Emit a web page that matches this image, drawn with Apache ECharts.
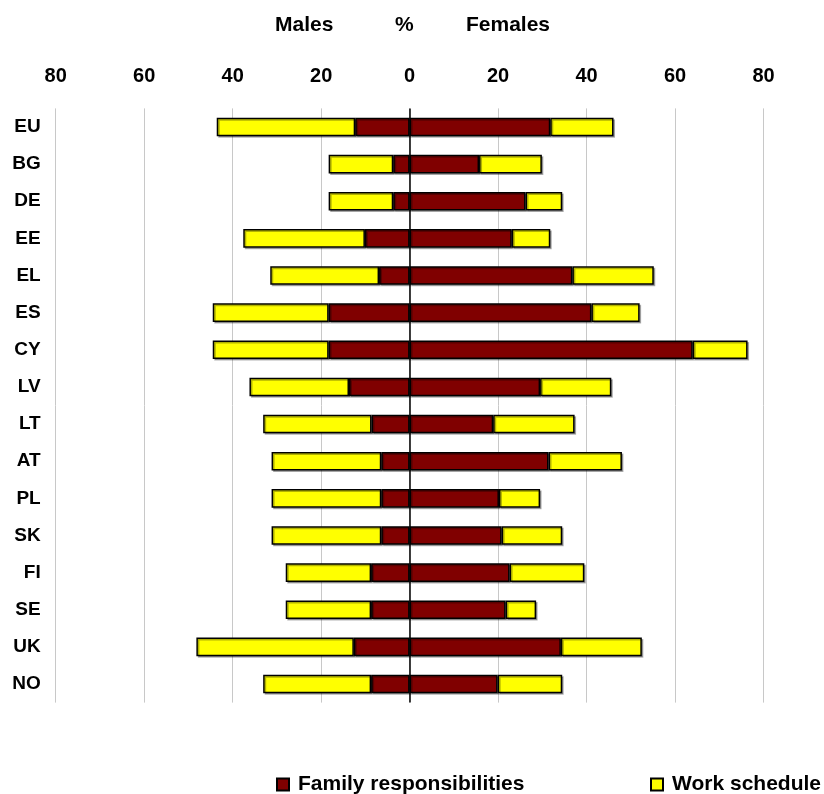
<!DOCTYPE html>
<html>
<head>
<meta charset="utf-8">
<script src="https://cdn.jsdelivr.net/npm/echarts@6/dist/echarts.min.js"></script>
<style>
html,body{margin:0;padding:0;background:#fff;}
#chart{width:824px;height:794px;}
</style>
</head>
<body>
<div id="chart"></div>
<script>
const categories = ['EU','BG','DE','EE','EL','ES','CY','LV','LT','AT','PL','SK','FI','SE','UK','NO'];
const maleFamily   = [12.3, 3.7, 3.7, 10.1, 6.9, 18.3, 18.3, 13.7, 8.6, 6.4, 6.4, 6.4, 8.7, 8.7, 12.6, 8.7];
const maleWork     = [31.3, 14.6, 14.6, 27.5, 24.6, 26.2, 26.2, 22.5, 24.5, 24.8, 24.8, 24.8, 19.3, 19.3, 35.6, 24.4];
const femaleFamily = [31.8, 15.7, 26.2, 23.1, 36.8, 41.1, 64.0, 29.5, 18.9, 31.4, 20.2, 20.8, 22.6, 21.7, 34.2, 19.9];
const femaleWork   = [14.3, 14.2, 8.3, 8.7, 18.4, 10.9, 12.4, 16.1, 18.4, 16.6, 9.3, 13.7, 16.9, 6.9, 18.3, 14.6];
const tickValues = [-80, -60, -40, -20, 0, 20, 40, 60, 80];
const seriesNames = ['Family responsibilities', 'Work schedule'];

const RED = '#800000', YEL = '#ffff00';
const font = 'Liberation Sans, Arial, sans-serif';
const chart = echarts.init(document.getElementById('chart'));

function barStyle(color) {
  return {
    color: color,
    borderColor: '#000',
    borderWidth: 1.5,
    shadowColor: 'rgba(0,0,0,0.3)',
    shadowOffsetX: 1.5,
    shadowOffsetY: 1.5,
    shadowBlur: 0
  };
}

const neg = a => a.map(v => -v);
const legendText = { fontSize: 21, fontWeight: 'bold', color: '#000', fontFamily: font, padding: [0, 0, 0, 4] };

chart.setOption({
  animation: false,
  backgroundColor: '#fff',
  textStyle: { fontFamily: font },
  graphic: [
    { type: 'text', left: 275, top: 15, style: { text: 'Males', font: 'bold 21px ' + font, fill: '#000' } },
    { type: 'text', left: 395, top: 15, style: { text: '%', font: 'bold 21px ' + font, fill: '#000' } },
    { type: 'text', left: 466, top: 15, style: { text: 'Females', font: 'bold 21px ' + font, fill: '#000' } }
  ],
  legend: [
    { data: [seriesNames[0]], left: 276, top: 774, padding: 0, icon: 'rect', itemWidth: 12, itemHeight: 12, textStyle: legendText },
    { data: [seriesNames[1]], left: 650, top: 774, padding: 0, icon: 'rect', itemWidth: 12, itemHeight: 12, textStyle: legendText }
  ],
  grid: { left: 55.7, right: 60.5, top: 108.4, bottom: 91.4, containLabel: false },
  xAxis: {
    type: 'value', position: 'top', min: -80, max: 80, interval: 20,
    axisLine: { show: false }, axisTick: { show: false },
    splitLine: { show: true, lineStyle: { color: '#c8c8c8', width: 1 } },
    axisLabel: {
      margin: 22, fontSize: 20, fontWeight: 'bold', color: '#000', fontFamily: font,
      customValues: tickValues,
      formatter: v => String(Math.abs(v))
    }
  },
  yAxis: {
    type: 'category', data: categories, inverse: true,
    axisLine: { show: false }, axisTick: { show: false },
    axisLabel: { margin: 15, fontSize: 19, fontWeight: 'bold', color: '#000', fontFamily: font }
  },
  series: [
    {
      name: seriesNames[0], type: 'bar', stack: 'all', barWidth: '50%',
      data: neg(maleFamily), itemStyle: barStyle(RED),
      markLine: {
        silent: true, symbol: 'none', label: { show: false },
        lineStyle: { color: '#000', width: 1.5, type: 'solid' },
        data: [{ xAxis: 0 }], z: 10
      }
    },
    { name: seriesNames[1], type: 'bar', stack: 'all', barWidth: '50%', data: neg(maleWork), itemStyle: barStyle(YEL) },
    { name: seriesNames[0], type: 'bar', stack: 'all', barWidth: '50%', data: femaleFamily, itemStyle: barStyle(RED) },
    { name: seriesNames[1], type: 'bar', stack: 'all', barWidth: '50%', data: femaleWork, itemStyle: barStyle(YEL) }
  ]
});
</script>
</body>
</html>
